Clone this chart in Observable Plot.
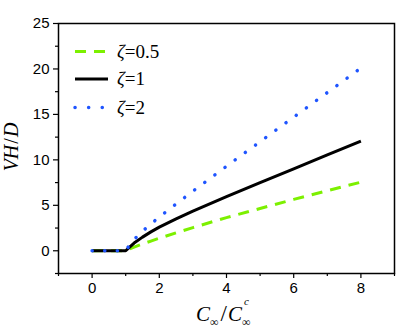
<!DOCTYPE html>
<html>
<head>
<meta charset="utf-8">
<script src="https://cdn.jsdelivr.net/npm/d3@7"></script>
<script src="https://cdn.jsdelivr.net/npm/@observablehq/plot@0.6"></script>
<style>
  html, body { margin: 0; padding: 0; background: #fff; }
  #chart svg { display: block; background: #fff; }
</style>
</head>
<body>
<div id="chart"></div>
<script>
// ---- data ----
const xs      = [0, 1, 1.1, 1.25, 1.5, 1.75, 2, 2.5, 3, 4, 5, 6, 7, 8];
const zeta05  = [0, 0, 0.17, 0.4, 0.75, 1.07, 1.38, 1.98, 2.55, 3.65, 4.65, 5.65, 6.6, 7.55];
const zeta1   = [0, 0, 0.35, 0.85, 1.5, 2.08, 2.6, 3.5, 4.35, 5.95, 7.5, 9.02, 10.54, 12.05];
const zeta2   = [0, 0, 0.55, 1.25, 2.15, 2.95, 3.7, 5.15, 6.55, 9.3, 12.0, 14.7, 17.4, 20.1];
const seriesNames = ["0.5", "1", "2"];
const seriesValues = [zeta05, zeta1, zeta2];
const xMajorTicks = [0, 2, 4, 6, 8];
const xMinorTicks = [-1, 1, 3, 5, 7, 9];
const yMajorTicks = [0, 5, 10, 15, 20, 25];
const yMinorTicks = [-2.5, 2.5, 7.5, 12.5, 17.5, 22.5];

// ---- styles ----
const styles = [
  {stroke: "#7cf000", strokeWidth: 3, strokeDasharray: "11 8", strokeLinecap: "butt"},
  {stroke: "#000000", strokeWidth: 3, strokeDasharray: null, strokeLinecap: "butt"},
  {stroke: "#1f55ff", strokeWidth: 3.5, strokeDasharray: "0.1 12.5", strokeLinecap: "round"}
];

const data = seriesValues.map((vals, k) => xs.map((x, i) => ({x, y: vals[i], s: seriesNames[k]})));

const tickFont = "'Liberation Sans', Arial, Helvetica, sans-serif";

const plot = Plot.plot({
  width: 416,
  height: 330,
  marginLeft: 58,
  marginRight: 22,
  marginTop: 23,
  marginBottom: 57,
  style: {fontFamily: tickFont, fontSize: "15px", color: "#000", background: "#fff"},
  x: {domain: [-1, 9], label: null},
  y: {domain: [-2.5, 25], label: null},
  marks: [
    ...data.map((d, k) => Plot.line(d, {x: "x", y: "y", ...styles[k]})),
    Plot.axisX({ticks: xMajorTicks, tickSize: 5, tickPadding: 4, fontSize: 15, label: null, strokeWidth: 1.2}),
    Plot.axisX({ticks: xMinorTicks, tickSize: 3, text: null, label: null, strokeWidth: 1.2}),
    Plot.axisY({ticks: yMajorTicks, tickSize: 5, tickPadding: 4, fontSize: 15, label: null, strokeWidth: 1.2}),
    Plot.axisY({ticks: yMinorTicks, tickSize: 3, text: null, label: null, strokeWidth: 1.2}),
    Plot.frame({stroke: "#000", strokeWidth: 1.5})
  ]
});

document.getElementById("chart").appendChild(plot);

const svg = d3.select(plot);
const serif = "'Liberation Serif', 'Times New Roman', Times, serif";

// legend
const legY = [51.5, 79, 107.5];
seriesNames.forEach((name, k) => {
  const st = styles[k];
  const ln = svg.append("line")
    .attr("x1", 75).attr("x2", 108).attr("y1", legY[k]).attr("y2", legY[k])
    .attr("stroke", st.stroke).attr("stroke-width", st.strokeWidth)
    .attr("stroke-linecap", st.strokeLinecap);
  if (st.strokeDasharray) ln.attr("stroke-dasharray", k === 2 ? "0.1 13.5" : st.strokeDasharray);
  const t = svg.append("text")
    .attr("x", 117).attr("y", legY[k] + 6)
    .attr("text-anchor", "start")
    .attr("font-family", serif).attr("font-size", 19).attr("fill", "#000");
  t.append("tspan").attr("font-style", "italic").text("ζ");
  t.append("tspan").text("=" + name);
});

// y label
const yl = svg.append("text")
  .attr("transform", "translate(18,147) rotate(-90)")
  .attr("text-anchor", "middle")
  .attr("font-family", serif).attr("font-size", 20).attr("fill", "#000");
yl.append("tspan").attr("font-style", "italic").text("VH");
yl.append("tspan").attr("dx", 1).text("/");
yl.append("tspan").attr("dx", 1).attr("font-style", "italic").text("D");

// x label
const xl = svg.append("text")
  .attr("x", 196).attr("y", 321)
  .attr("text-anchor", "start")
  .attr("font-family", serif).attr("font-size", 21).attr("fill", "#000");
xl.append("tspan").attr("font-style", "italic").text("C");
xl.append("tspan").attr("font-size", 12).attr("dy", 5).text("∞");
xl.append("tspan").attr("dy", -5).attr("dx", 2).attr("font-size", 23).text("/");
xl.append("tspan").attr("dx", 1).attr("font-style", "italic").text("C");
xl.append("tspan").attr("font-size", 12).attr("dy", 5).text("∞");
// superscript c above the subscript
let cx = 248;
try { cx = xl.node().getStartPositionOfChar(4).x + 2; } catch (e) {}
svg.append("text")
  .attr("x", cx).attr("y", 305)
  .attr("text-anchor", "start")
  .attr("font-family", serif).attr("font-size", 11).attr("font-style", "italic")
  .attr("fill", "#000").text("c");
</script>
</body>
</html>
